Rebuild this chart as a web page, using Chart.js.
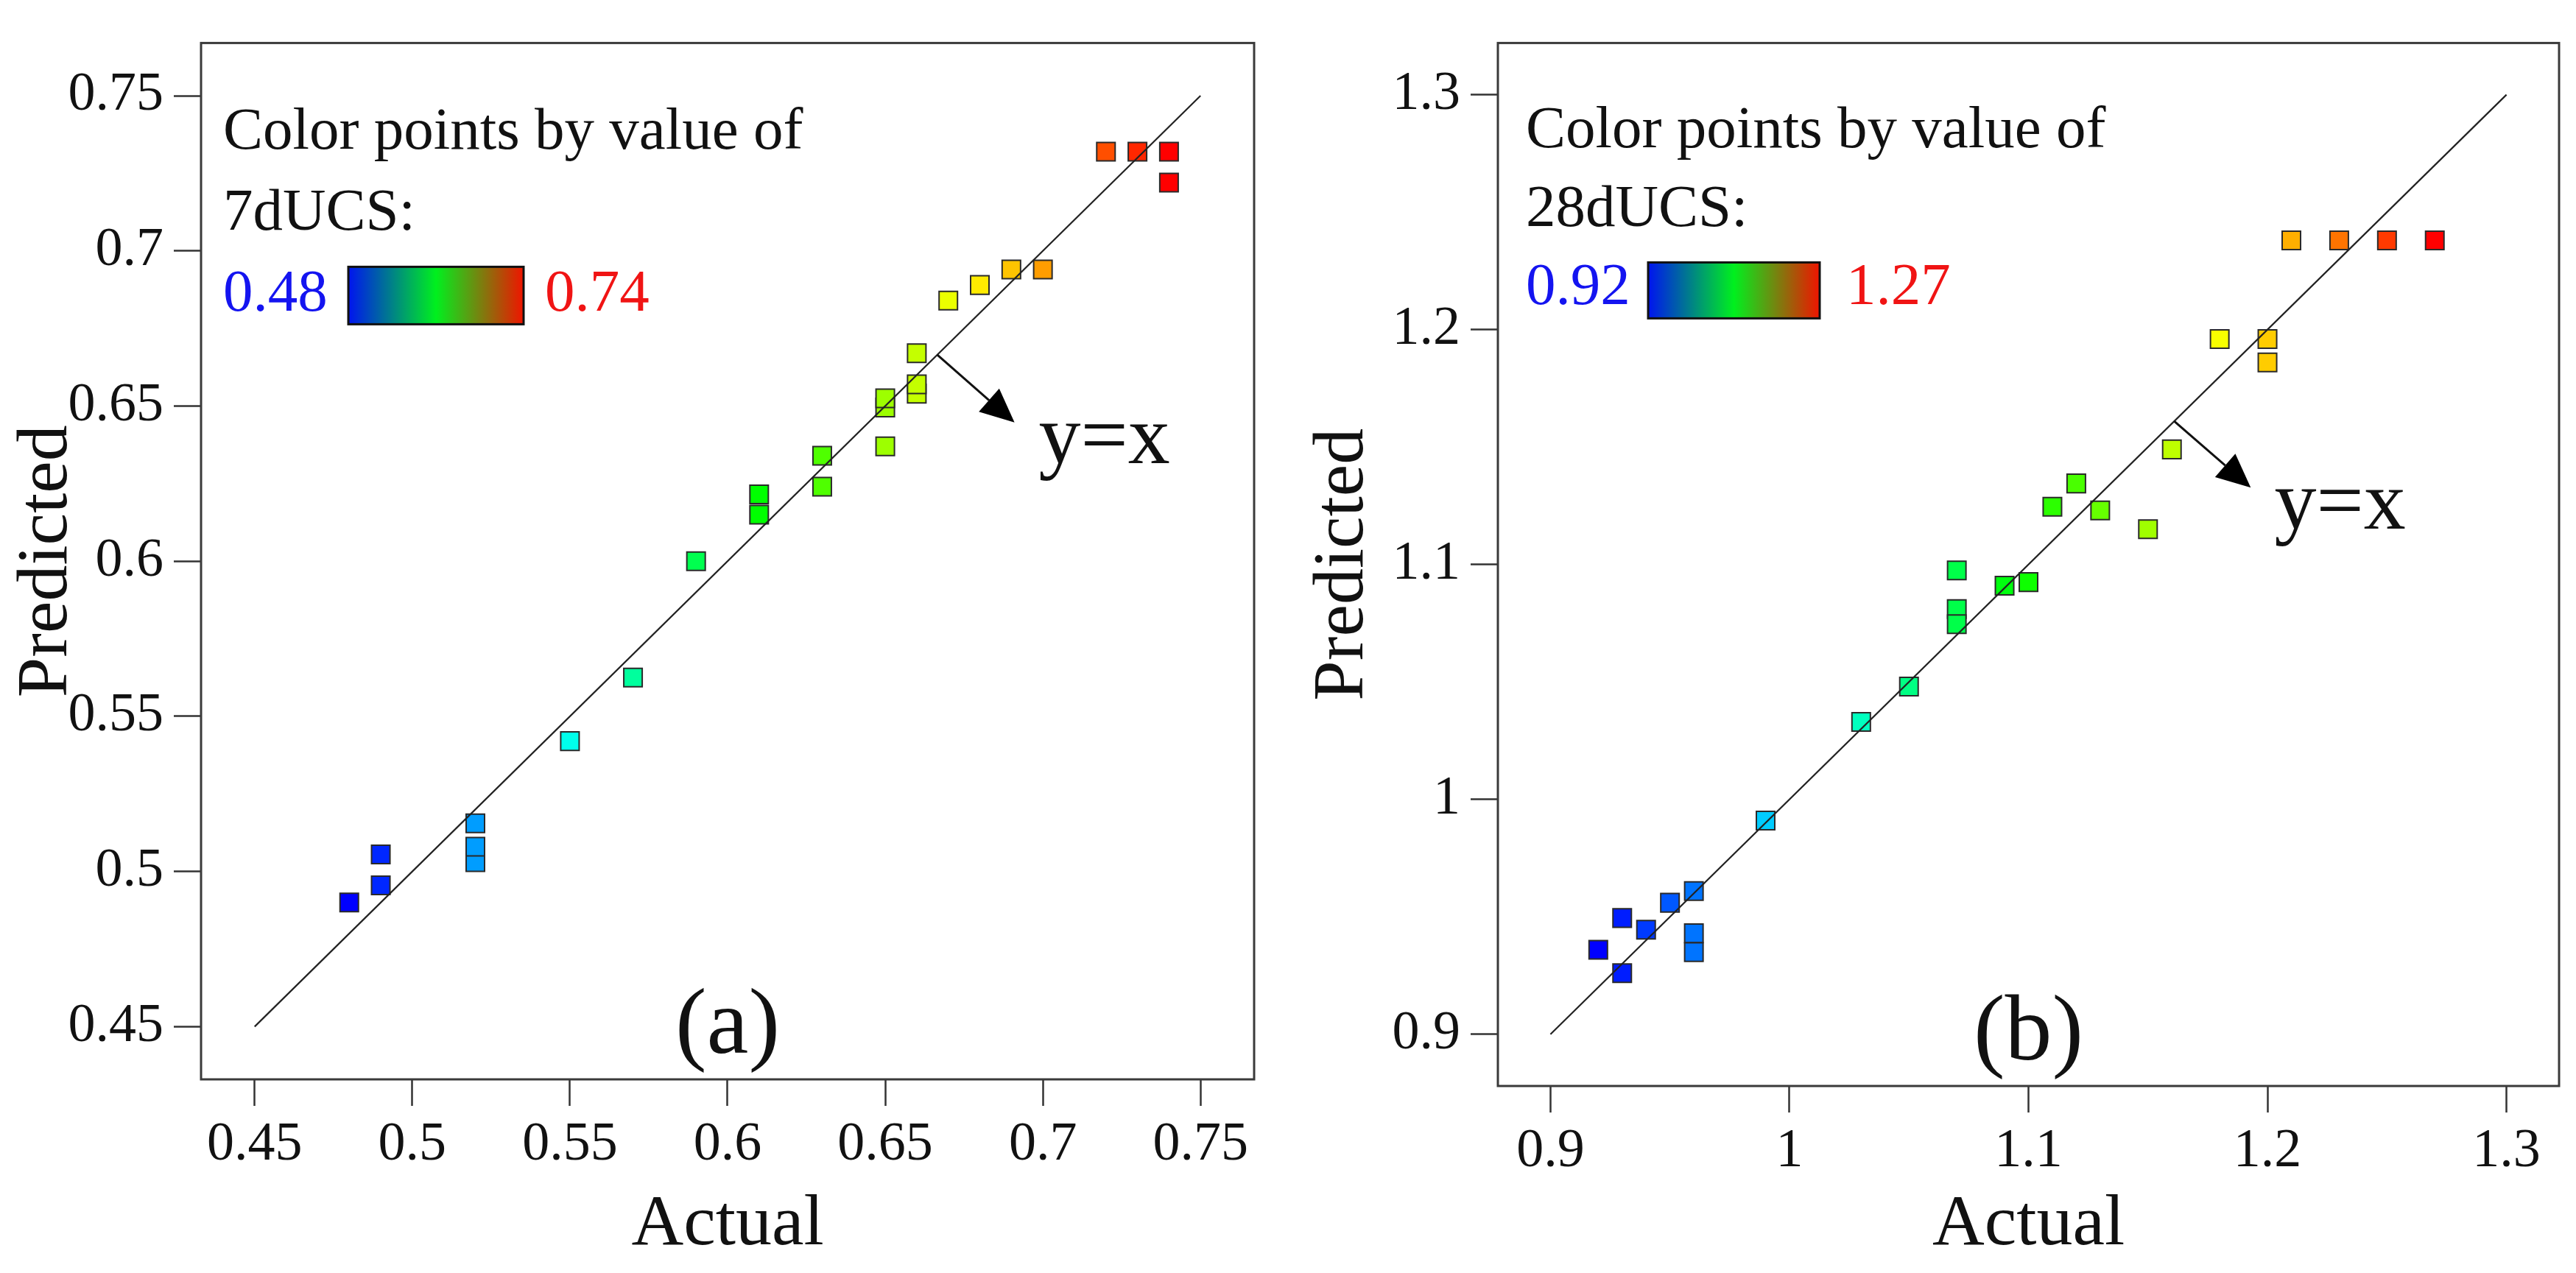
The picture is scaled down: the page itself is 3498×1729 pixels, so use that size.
<!DOCTYPE html>
<html>
<head>
<meta charset="utf-8">
<script src="https://cdn.jsdelivr.net/npm/chart.js@4.4.1/dist/chart.umd.min.js"></script>
<style>
html,body{margin:0;padding:0;background:#fff;}
body{width:3498px;height:1729px;position:relative;overflow:hidden;}
.box{position:absolute;top:0;height:1729px;}
#wa{left:0;width:1760px;}
#wb{left:1760px;width:1738px;}
</style>
</head>
<body>
<div class="box" id="wa"><canvas id="ca"></canvas></div>
<div class="box" id="wb"><canvas id="cb"></canvas></div>
<script>
// ---------- Panel (a): 7dUCS ----------
const actualA    = [0.48,0.49,0.49,0.52,0.52,0.52,0.55,0.57,0.59,0.61,0.61,0.63,0.63,0.65,0.65,0.65,0.66,0.66,0.66,0.67,0.68,0.69,0.70,0.72,0.73,0.74,0.74];
const predictedA = [0.490,0.4955,0.5055,0.503,0.508,0.5155,0.542,0.5625,0.600,0.615,0.6215,0.624,0.634,0.637,0.6495,0.6525,0.654,0.657,0.667,0.684,0.689,0.694,0.694,0.732,0.732,0.732,0.722];
const ticksA      = [0.45,0.5,0.55,0.6,0.65,0.7,0.75];
const axisRangeA  = [0.433,0.767];
const colorRangeA = [0.48,0.74];
const fitLineA    = [0.45,0.75];

// ---------- Panel (b): 28dUCS ----------
const actualB    = [0.92,0.93,0.93,0.94,0.95,0.96,0.96,0.96,0.99,1.03,1.05,1.07,1.07,1.07,1.09,1.10,1.11,1.12,1.13,1.15,1.16,1.18,1.20,1.20,1.21,1.23,1.25,1.27];
const predictedB = [0.936,0.9495,0.926,0.9445,0.956,0.961,0.943,0.935,0.991,1.033,1.048,1.0975,1.081,1.0746,1.091,1.0925,1.1246,1.1345,1.123,1.115,1.149,1.196,1.196,1.186,1.238,1.238,1.238,1.238];
const ticksB      = [0.9,1,1.1,1.2,1.3];
const axisRangeB  = [0.878,1.322];
const colorRangeB = [0.92,1.27];
const fitLineB    = [0.9,1.3];

const SERIF = '"Liberation Serif","Times New Roman",serif';

function colorFor(v, cr){
  let t = (v - cr[0]) / (cr[1] - cr[0]);
  t = Math.max(0, Math.min(1, t));
  return 'hsl(' + (240 * (1 - t)).toFixed(1) + ',100%,50%)';
}

const annotate = {
  id: 'annotate',
  afterDatasetsDraw(chart, args, o){
    const {ctx, chartArea: ca, scales: {x, y}} = chart;
    ctx.save();
    // plot frame
    ctx.strokeStyle = '#3a3a3a'; ctx.lineWidth = 3;
    ctx.strokeRect(ca.left, ca.top, ca.right - ca.left, ca.bottom - ca.top);

    // colour legend
    ctx.textAlign = 'left'; ctx.textBaseline = 'alphabetic';
    ctx.font = o.legendSize + 'px ' + SERIF;
    ctx.fillStyle = '#111';
    ctx.fillText('Color points by value of', ca.left + o.tx, ca.top + o.b1);
    ctx.fillText(o.varName + ':', ca.left + o.tx, ca.top + o.b2);
    ctx.fillStyle = '#1414f0';
    ctx.fillText(String(o.cr[0]), ca.left + o.tx, ca.top + o.b3);
    ctx.fillStyle = '#f01414';
    ctx.fillText(String(o.cr[1]), ca.left + o.rx, ca.top + o.b3);
    const bx0 = ca.left + o.bar[0], bx1 = ca.left + o.bar[1];
    const by0 = ca.top + o.bar[2], by1 = ca.top + o.bar[3];
    const g = ctx.createLinearGradient(bx0, 0, bx1, 0);
    g.addColorStop(0, '#0014f0');
    g.addColorStop(0.5, '#00f01e');
    g.addColorStop(1, '#f01400');
    ctx.fillStyle = g;
    ctx.fillRect(bx0, by0, bx1 - bx0, by1 - by0);
    ctx.strokeStyle = '#111'; ctx.lineWidth = 3;
    ctx.strokeRect(bx0, by0, bx1 - bx0, by1 - by0);

    // arrow pointing from the y=x line to its label
    const px0 = x.getPixelForValue(o.arrowFrom[0]), py0 = y.getPixelForValue(o.arrowFrom[1]);
    const px1 = x.getPixelForValue(o.arrowTo[0]),   py1 = y.getPixelForValue(o.arrowTo[1]);
    const ang = Math.atan2(py1 - py0, px1 - px0);
    const hl = 46, hw = 21;
    const bxh = px1 - hl * Math.cos(ang), byh = py1 - hl * Math.sin(ang);
    ctx.strokeStyle = '#111'; ctx.lineWidth = 3;
    ctx.beginPath(); ctx.moveTo(px0, py0); ctx.lineTo(bxh, byh); ctx.stroke();
    ctx.fillStyle = '#000';
    ctx.beginPath();
    ctx.moveTo(px1, py1);
    ctx.lineTo(bxh + hw * Math.sin(ang), byh - hw * Math.cos(ang));
    ctx.lineTo(bxh - hw * Math.sin(ang), byh + hw * Math.cos(ang));
    ctx.closePath(); ctx.fill();

    ctx.fillStyle = '#111';
    ctx.font = o.eqSize + 'px ' + SERIF;
    ctx.fillText('y=x', x.getPixelForValue(o.eqAt[0]), y.getPixelForValue(o.eqAt[1]));

    // panel tag
    ctx.textAlign = 'center';
    ctx.font = o.tagSize + 'px ' + SERIF;
    ctx.fillText(o.tag, (ca.left + ca.right) / 2, ca.bottom - o.tagGap);
    ctx.restore();
  }
};

function makeChart(id, c){
  const fontTick = {family: SERIF, size: 74};
  const fontTitle = {family: SERIF, size: 98};
  return new Chart(document.getElementById(id), {
    type: 'scatter',
    data: {
      datasets: [
        {
          type: 'line',
          data: c.fit.map(v => ({x: v, y: v})),
          borderColor: '#222', borderWidth: 2.2,
          pointRadius: 0, fill: false, tension: 0, order: 0
        },
        {
          type: 'scatter',
          data: c.actual.map((a, i) => ({x: a, y: c.pred[i]})),
          pointStyle: 'rect', pointRadius: 17.7, pointHoverRadius: 17.7,
          backgroundColor: c.actual.map(a => colorFor(a, c.cr)),
          borderColor: '#2a2a2a', borderWidth: 2, order: 1
        }
      ]
    },
    options: {
      responsive: true, maintainAspectRatio: false, animation: false,
      layout: {padding: {top: c.padTop, right: c.padRight, bottom: 0, left: 0}},
      plugins: {
        legend: {display: false}, tooltip: {enabled: false},
        annotate: c.ann
      },
      scales: {
        x: {
          type: 'linear', min: c.range[0], max: c.range[1],
          afterBuildTicks: s => { s.ticks = c.ticks.map(v => ({value: v})); },
          afterFit: s => { s.height = c.xh; },
          ticks: {font: fontTick, color: '#111', padding: 9, autoSkip: false, maxRotation: 0, callback: v => String(v)},
          grid: {drawOnChartArea: false, drawTicks: true, tickLength: 36, tickWidth: 2.5, tickColor: '#333'},
          border: {display: false},
          title: {display: true, text: 'Actual', font: fontTitle, color: '#111', padding: {top: 0, bottom: 6}}
        },
        y: {
          type: 'linear', min: c.range[0], max: c.range[1],
          afterBuildTicks: s => { s.ticks = c.ticks.map(v => ({value: v})); },
          afterFit: s => { s.width = c.yw; },
          ticks: {font: fontTick, color: '#111', padding: 14, autoSkip: false, callback: v => String(v)},
          grid: {drawOnChartArea: false, drawTicks: true, tickLength: 37, tickWidth: 2.5, tickColor: '#333'},
          border: {display: false},
          title: {display: true, text: 'Predicted', font: fontTitle, color: '#111', padding: {top: 5, bottom: 0}}
        }
      }
    },
    plugins: [annotate]
  });
}

makeChart('ca', {
  actual: actualA, pred: predictedA, ticks: ticksA, range: axisRangeA, cr: colorRangeA, fit: fitLineA,
  padTop: 33, padRight: 57, xh: 263, yw: 273,
  ann: {
    varName: '7dUCS', cr: colorRangeA, legendSize: 81,
    tx: 30, b1: 144, b2: 254, b3: 364, rx: 467, bar: [200, 438, 304, 382],
    arrowFrom: [0.6665, 0.6665], arrowTo: [0.691, 0.6447],
    eqAt: [0.6987, 0.6315], eqSize: 114,
    tag: '(a)', tagSize: 128, tagGap: 36
  }
});

makeChart('cb', {
  actual: actualB, pred: predictedB, ticks: ticksB, range: axisRangeB, cr: colorRangeB, fit: fitLineB,
  padTop: 33, padRight: 23, xh: 254, yw: 274,
  ann: {
    varName: '28dUCS', cr: colorRangeB, legendSize: 81,
    tx: 38, b1: 142, b2: 249, b3: 355, rx: 473, bar: [204, 437, 298, 374],
    arrowFrom: [1.161, 1.161], arrowTo: [1.193, 1.1327],
    eqAt: [1.2029, 1.1154], eqSize: 114,
    tag: '(b)', tagSize: 128, tagGap: 36
  }
});
</script>
</body>
</html>
